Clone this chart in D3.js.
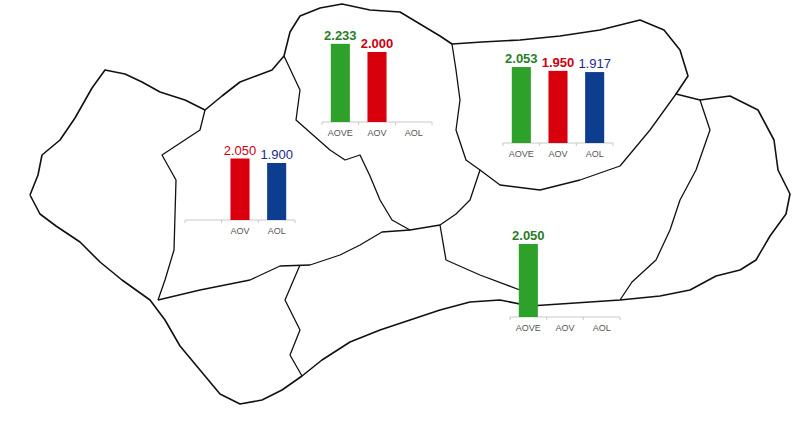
<!DOCTYPE html>
<html><head><meta charset="utf-8">
<script src="https://cdn.jsdelivr.net/npm/d3@7"></script>
<style>body{margin:0;background:#fff}</style>
</head><body>
<div id="chart"></div>
<script>
const width = 804, height = 423;
const categories = ["AOVE", "AOV", "AOL"];
const colors = {AOVE: "#2ea12a", AOV: "#d9000e", AOL: "#0d3d8e"};
const textColors = {AOVE: "#2b7d2a", AOV: "#cc0010", AOL: "#1c2a8c"};

// one small chart per province
const cordobaValues = [2.233, 2.000, null];
const jaenValues = [2.053, 1.950, 1.917];
const sevillaValues = [null, 2.050, 1.900];
const malagaValues = [2.050, null, null];

// outline of the region (background drawing)
const outline = [[30,195],[38,175],[42,155],[60,140],[75,118],[92,88],[105,70],[125,74],[142,82],[160,92],[185,100],[205,110],[222,96],[240,82],[256,76],[272,70],[284,56],[290,32],[300,16],[320,8],[342,4],[370,10],[400,12],[420,24],[440,36],[452,44],[482,42],[520,40],[560,36],[600,30],[640,20],[664,30],[680,50],[688,76],[676,94],[700,100],[730,96],[758,110],[774,140],[778,170],[790,194],[786,214],[770,236],[756,260],[740,270],[716,276],[690,290],[660,296],[620,300],[590,302],[560,304],[530,306],[500,300],[470,302],[440,310],[410,320],[380,330],[350,342],[322,360],[302,376],[282,390],[262,400],[240,404],[220,394],[200,370],[180,346],[165,320],[150,300],[122,280],[100,262],[80,242],[56,226],[40,214],[30,195]];
const borders = [
  [[205,110],[200,130],[162,155],[176,180],[174,250],[165,280],[158,300]],
  [[284,56],[300,90],[296,120],[330,150],[345,160],[360,155],[370,176],[380,200],[392,220],[410,230],[440,225]],
  [[158,300],[200,290],[250,280],[280,266],[310,265],[340,255],[360,245],[382,232],[410,230]],
  [[300,265],[285,300],[300,330],[290,355],[302,376]],
  [[452,44],[456,70],[460,100],[456,130],[466,160],[480,170],[470,200],[456,214],[440,225]],
  [[440,225],[446,260],[480,275],[520,290],[530,306]],
  [[480,170],[500,185],[540,190],[580,180],[620,166],[650,130],[676,94]],
  [[700,100],[710,130],[696,170],[680,200],[670,230],[656,260],[632,282],[620,300]]
];

const charts = [
  {values: cordobaValues, x: 322, y: 122, perUnit: 35, bold: true},
  {values: jaenValues, x: 503, y: 143, perUnit: 37, bold: true},
  {values: sevillaValues, x: 185, y: 220, perUnit: 30, bold: false},
  {values: malagaValues, x: 510, y: 317, perUnit: 35.6, bold: true}
];

const svg = d3.select("#chart").append("svg").attr("width", width).attr("height", height);
const line = d3.line();
svg.append("path").attr("d", line(outline)).attr("fill", "#fff")
  .attr("stroke", "#111").attr("stroke-width", 1.6).attr("stroke-linejoin", "round");
borders.forEach(b => svg.append("path").attr("d", line(b)).attr("fill", "none")
  .attr("stroke", "#111").attr("stroke-width", 1.3).attr("stroke-linejoin", "round"));

charts.forEach(c => {
  const g = svg.append("g").attr("transform", `translate(${c.x},${c.y})`);
  const x = d3.scaleBand().domain(categories).range([0, 110]).paddingInner(0.48).paddingOuter(0.24);
  const y = d3.scaleLinear().domain([0, 1]).range([0, -c.perUnit]);
  const data = categories.map((k, i) => ({k, v: c.values[i]}));
  g.append("line").attr("x1", 0).attr("x2", 110).attr("stroke", "#c8c8c8");
  [0, 110/3, 220/3, 110].forEach(t => g.append("line").attr("x1", t).attr("x2", t)
    .attr("y1", 0).attr("y2", 3).attr("stroke", "#c8c8c8"));
  // the Sevilla chart has no AOVE label
  const labelled = c.bold ? data : data.filter(d => d.k !== "AOVE");
  g.selectAll("text.cat").data(labelled).enter().append("text")
    .attr("x", d => x(d.k) + x.bandwidth() / 2).attr("y", 14)
    .attr("text-anchor", "middle").attr("font-family", "Arial, sans-serif")
    .attr("font-size", 9).attr("fill", "#555").text(d => d.k);
  const vals = data.filter(d => d.v !== null);
  g.selectAll("rect").data(vals).enter().append("rect")
    .attr("x", d => x(d.k)).attr("width", x.bandwidth())
    .attr("y", d => y(d.v)).attr("height", d => -y(d.v)).attr("fill", d => colors[d.k]);
  g.selectAll("text.val").data(vals).enter().append("text")
    .attr("x", d => x(d.k) + x.bandwidth() / 2).attr("y", d => y(d.v) - 4)
    .attr("text-anchor", "middle").attr("font-family", "Arial, sans-serif")
    .attr("font-size", 13).attr("font-weight", d => c.bold && d.k !== "AOL" ? "bold" : "normal")
    .attr("fill", d => textColors[d.k]).text(d => d3.format(".3f")(d.v));
});
</script>
</body></html>
